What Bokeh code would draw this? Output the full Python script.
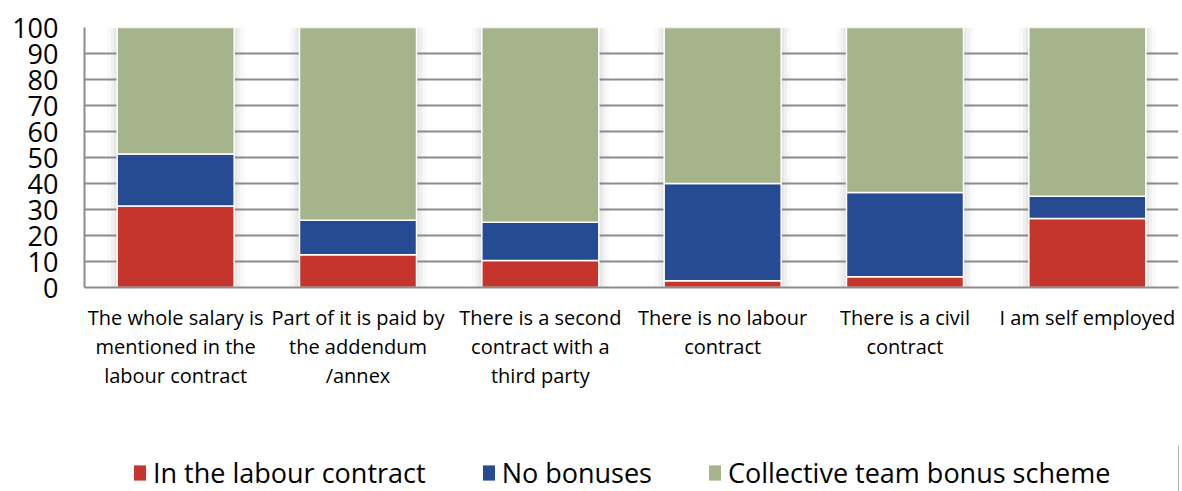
from bokeh.plotting import figure
from bokeh.layouts import column
from bokeh.models import FactorRange, Range1d, FixedTicker, Legend, LegendItem, ColumnDataSource
from bokeh.embed import file_html
from bokeh.resources import INLINE

categories = [
    "The whole salary is\nmentioned in the\nlabour contract",
    "Part of it is paid by\nthe addendum\n/annex",
    "There is a second\ncontract with a\nthird party",
    "There is no labour\ncontract",
    "There is a civil\ncontract",
    "I am self employed",
]
series_names = ["In the labour contract", "No bonuses", "Collective team bonus scheme"]
in_contract = [31.3, 12.6, 10.4, 2.6, 4.1, 26.5]
no_bonuses = [20.0, 13.3, 14.7, 37.4, 32.4, 8.6]
collective = [48.7, 74.1, 74.9, 60.0, 63.5, 64.9]
y_ticks = [0, 10, 20, 30, 40, 50, 60, 70, 80, 90, 100]

colors = ["#C5352D", "#264B93", "#A5B48A"]
FONT = "Open Sans"

src = ColumnDataSource(dict(cat=categories, a=in_contract, b=no_bonuses, c=collective,
                            full=[100] * len(categories)))

p = figure(x_range=FactorRange(*categories, range_padding=0), y_range=Range1d(0, 100),
           frame_width=1094, frame_height=260,
           min_border_left=84, min_border_right=4, min_border_top=27, min_border_bottom=158,
           output_backend="svg", toolbar_location=None, tools="")
p.outline_line_color = None
p.xgrid.grid_line_color = None
p.ygrid.grid_line_color = "#8C8C8C"
p.ygrid.grid_line_width = 2
p.yaxis.ticker = FixedTicker(ticks=y_ticks)

# soft shadow around bars
pxu = 1.0 / 182.33
bw = 117 * pxu
for ext, al in [(10, 0.05), (6, 0.07), (3, 0.09)]:
    p.vbar(x="cat", top="full", bottom=0, width=bw + 2 * ext * pxu, source=src,
           fill_color="#808080", fill_alpha=al, line_color=None)

rs = p.vbar_stack(["a", "b", "c"], x="cat", width=bw, source=src, color=colors,
                  line_color="white", line_width=1.5)

for ax in (p.xaxis[0], p.yaxis[0]):
    ax.axis_line_color = "#8C8C8C"
    ax.axis_line_width = 2
    ax.major_tick_line_color = None
    ax.minor_tick_line_color = None
    ax.major_label_text_font = FONT
    ax.major_label_text_color = "black"

p.yaxis.major_label_text_font_size = "27px"
p.yaxis.major_label_standoff = 20
p.xaxis.major_label_text_font_size = "20px"
p.xaxis.major_label_text_line_height = 1.08
p.xaxis.major_label_standoff = 10

# legend strip underneath the chart
lg = figure(width=1182, height=46, x_range=Range1d(0, 1), y_range=Range1d(0, 1),
            min_border=0, x_axis_type=None, y_axis_type=None,
            output_backend="svg", toolbar_location=None, tools="")
lg.outline_line_color = None
lg.grid.visible = False
# off-range swatch renderers that only feed the legend
dummies = [lg.vbar(x=[5], top=[1], width=0.1, fill_color=c, line_color=None) for c in colors]

legend = Legend(items=[LegendItem(label=n, renderers=[r]) for n, r in zip(series_names, dummies)],
                orientation="horizontal", location=(48, 0),
                glyph_width=15, glyph_height=19, label_standoff=6, spacing=55,
                padding=0, margin=0, border_line_color=None, background_fill_alpha=0,
                label_text_font=FONT, label_text_font_size="27px", label_text_color="black")
lg.add_layout(legend, "center")

layout = column(p, lg, spacing=0)
open("out.html", "w").write(file_html(layout, INLINE))
